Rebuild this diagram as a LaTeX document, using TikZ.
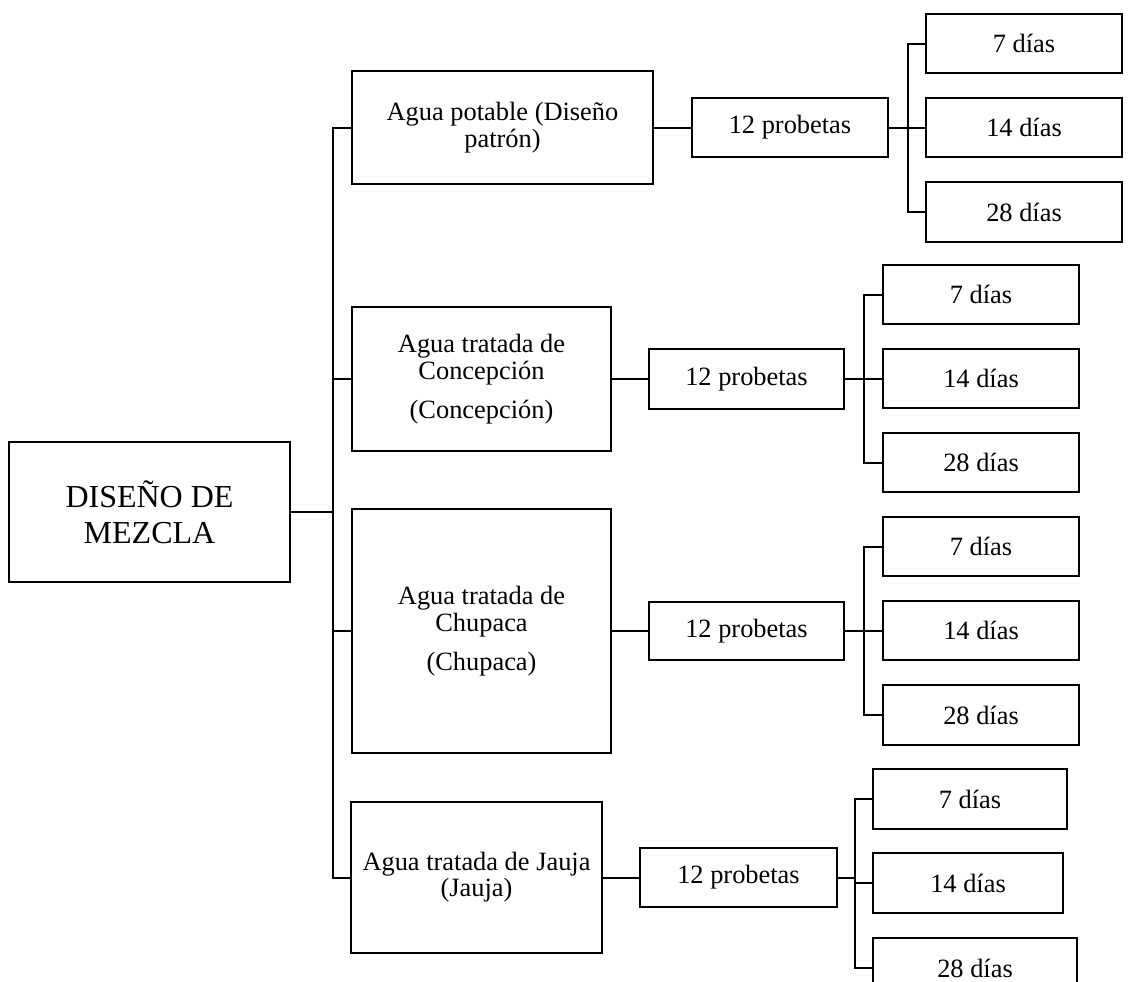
\documentclass[tikz,border=0pt]{standalone}
\usepackage{fontspec}
\setmainfont{Liberation Serif}
\usepackage{tikz}

\begin{document}
\begin{tikzpicture}[x=0.5pt, y=-0.5pt, line width=1pt]
    \tikzstyle{caja} = [rectangle, draw, align=center, inner sep=0pt, font=\fontsize{13.2}{13.5}\selectfont]
    \tikzstyle{agua} = [caja, minimum width=129.5pt]
    \tikzstyle{prob} = [caja, minimum width=97.5pt, minimum height=29.5pt]
    \tikzstyle{dia} = [caja, minimum width=98pt, minimum height=29.5pt]
    \clip (0,0) rectangle (1128,981);

    \node [caja, minimum width=140.5pt, minimum height=70pt, font=\fontsize{16}{18}\selectfont] (mezcla) at (149.5,512) {DISEÑO DE\\MEZCLA};

    \node [agua, minimum width=150.5pt, minimum height=56.5pt] (potable) at (502.5,127.5) {Agua potable (Diseño\\patrón)};
    \node [agua, minimum height=72pt] (concep) at (481.5,379) {Agua tratada de\\Concepción\\[6pt](Concepción)};
    \node [agua, minimum height=122pt] (chupaca) at (481.5,631) {Agua tratada de\\Chupaca\\[6pt](Chupaca)};
    \node [agua, minimum width=125.5pt, minimum height=75.5pt, font=\fontsize{13.2}{11}\selectfont] (jauja) at (476.5,877.5) {Agua tratada de Jauja\\(Jauja)};

    \node [prob, minimum width=98pt] (p1) at (790,127.5) {12 probetas};
    \node [prob, minimum height=30pt] (p2) at (746.5,379) {12 probetas};
    \node [prob, minimum height=29pt] (p3) at (746.5,631) {12 probetas};
    \node [prob, minimum width=98.5pt] (p4) at (738.5,877.5) {12 probetas};

    \node [dia] (d1a) at (1024,43.5) {7 días};
    \node [dia] (d1b) at (1024,127.5) {14 días};
    \node [dia, minimum height=30pt] (d1c) at (1024,212) {28 días};
    \node [dia] (d2a) at (981,294.5) {7 días};
    \node [dia] (d2b) at (981,378.5) {14 días};
    \node [dia] (d2c) at (981,462.5) {28 días};
    \node [dia] (d3a) at (981,546.5) {7 días};
    \node [dia] (d3b) at (981,630.5) {14 días};
    \node [dia, minimum height=30pt] (d3c) at (981,715) {28 días};
    \node [dia, minimum width=97pt, minimum height=30pt] (d4a) at (970,799) {7 días};
    \node [dia, minimum width=95pt, minimum height=30pt] (d4b) at (968,883) {14 días};
    \node [dia, minimum width=102pt, minimum height=30pt] (d4c) at (975,968) {28 días};

    % tronco principal
    \draw (mezcla.east) -- ++(42,0) coordinate (eje);
    \draw (eje) |- (potable.west);
    \draw (eje) |- (concep.west);
    \draw (eje) |- (chupaca.west);
    \draw (eje) |- (jauja.west);

    \draw (potable.east) -- (p1.west);
    \draw (concep.east) -- (p2.west);
    \draw (chupaca.east) -- (p3.west);
    \draw (jauja.east) -- (p4.west);

    % ramas de edades
    \draw (p1.east) -- ++(19,0) coordinate (r1);
    \draw (r1) |- (d1a.west);
    \draw (r1) |- (d1b.west);
    \draw (r1) |- (d1c.west);
    \draw (p2.east) -- ++(19,0) coordinate (r2);
    \draw (r2) |- (d2a.west);
    \draw (r2) |- (d2b.west);
    \draw (r2) |- (d2c.west);
    \draw (p3.east) -- ++(19,0) coordinate (r3);
    \draw (r3) |- (d3a.west);
    \draw (r3) |- (d3b.west);
    \draw (r3) |- (d3c.west);
    \draw (p4.east) -- ++(17,0) coordinate (r4);
    \draw (r4) |- (d4a.west);
    \draw (r4) |- (d4b.west);
    \draw (r4) |- (d4c.west);
\end{tikzpicture}
\end{document}
